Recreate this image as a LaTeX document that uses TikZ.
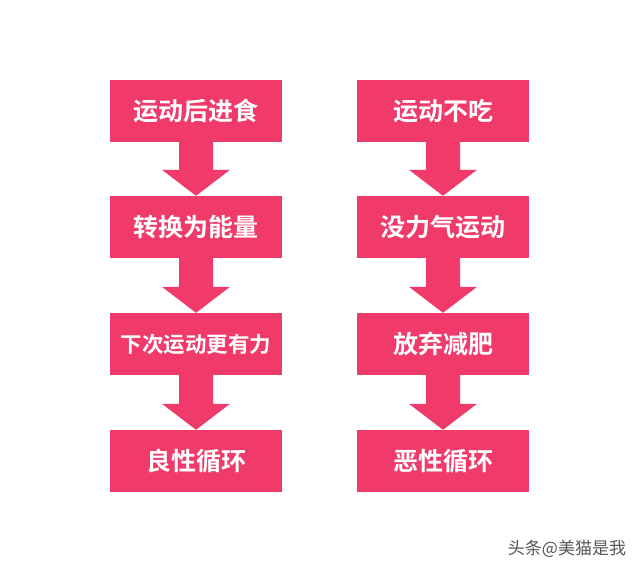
\documentclass[tikz,border=0pt]{standalone}
\usepackage{fontspec}
\newfontfamily\cjk{Noto Sans CJK SC}[UprightFont={* Bold}]
\newfontfamily\cjkmark{Noto Sans CJK SC}
\usetikzlibrary{calc}
\definecolor{boxpink}{RGB}{239,58,106}
\definecolor{markgray}{RGB}{85,85,85}

\begin{document}
\begin{tikzpicture}[x=1pt, y=-1pt,
    stepbox/.style={rectangle, fill=boxpink, text=white, inner sep=0pt,
        minimum width=172pt, minimum height=62pt, font=\cjk\fontsize{25}{25}\selectfont},
    fatarrow/.style={fill=boxpink, draw=none}]

    \useasboundingbox[fill=white] (0,0) rectangle (640,572);

    % Left column
    \node[stepbox] (good-1) at (196, 111) {运动后进食};
    \node[stepbox] (good-2) at (196, 227) {转换为能量};
    \node[stepbox, font=\cjk\fontsize{21.5}{21.5}\selectfont] (good-3) at (196, 344) {下次运动更有力};
    \node[stepbox] (good-4) at (196, 461) {良性循环};

    % Right column
    \node[stepbox] (bad-1) at (443, 111) {运动不吃};
    \node[stepbox] (bad-2) at (443, 227) {没力气运动};
    \node[stepbox] (bad-3) at (443, 344) {放弃减肥};
    \node[stepbox] (bad-4) at (443, 461) {恶性循环};

    % Block arrows between the boxes
    \foreach \col in {good, bad} {
        \foreach \i [evaluate=\i as \j using int(\i+1)] in {1,...,3} {
            \fill[fatarrow] ($(\col-\i.south)+(-17,0)$) -- ($(\col-\i.south)+(17,0)$)
                -- ($(\col-\j.north)+(17,-26)$) -- ($(\col-\j.north)+(34,-26)$)
                -- (\col-\j.north)
                -- ($(\col-\j.north)+(-34,-26)$) -- ($(\col-\j.north)+(-17,-26)$) -- cycle;
        }
    }

    % Watermark
    \node[text=markgray, font=\cjkmark\fontsize{17}{17}\selectfont] (mark) at (567, 549) {头条@美猫是我};

\end{tikzpicture}
\end{document}
